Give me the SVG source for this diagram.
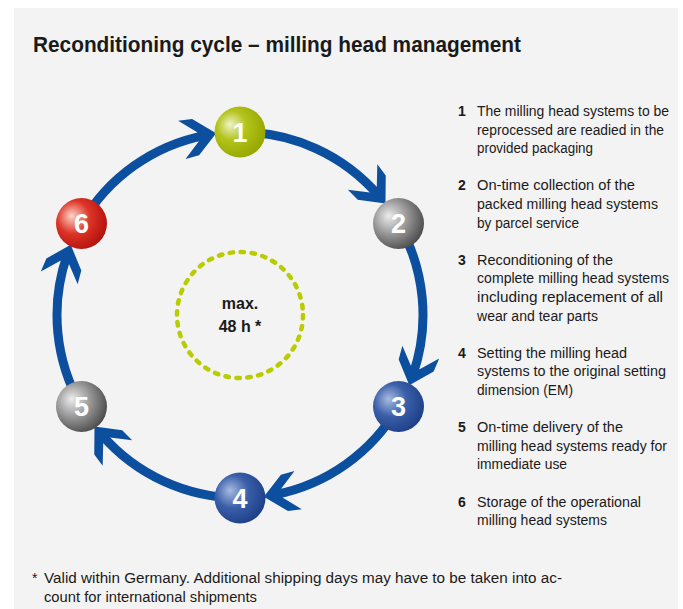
<svg xmlns="http://www.w3.org/2000/svg" width="683" height="609" viewBox="0 0 683 609">
<style>
  .ring{fill:none;stroke:#0b4f9e;stroke-width:9;marker-end:url(#ah)}
  .num{font-family:"Liberation Sans",Arial,sans-serif;font-size:27px;font-weight:bold;fill:#ffffff;text-anchor:middle}
  .li{font-family:"Liberation Sans",Arial,sans-serif;font-size:14px;fill:#1a1a1a}
  .ln{font-family:"Liberation Sans",Arial,sans-serif;font-size:14px;font-weight:bold;fill:#1a1a1a}
  .ctr{font-family:"Liberation Sans",Arial,sans-serif;font-size:16px;font-weight:bold;fill:#1a1a1a;text-anchor:middle}
</style>
<defs>
  <marker id="ah" markerUnits="userSpaceOnUse" orient="auto" viewBox="-30 -25 50 50" refX="0" refY="0" markerWidth="50" markerHeight="50" overflow="visible">
    <path d="M11,0 L-10,-18.5 L-24,-19.5 L-7.5,-4.5 L-7.5,4.5 L-24,19.5 L-10,18.5 Z" fill="#0b4f9e"/>
  </marker>
  <radialGradient id="gGreen" cx="0.38" cy="0.4" r="0.65" fx="0.3" fy="0.35">
    <stop offset="0" stop-color="#f0f3c8"/>
    <stop offset="0.45" stop-color="#b2c31a"/>
    <stop offset="1" stop-color="#96a600"/>
  </radialGradient>
  <radialGradient id="gGray" cx="0.38" cy="0.4" r="0.65" fx="0.3" fy="0.35">
    <stop offset="0" stop-color="#ececec"/>
    <stop offset="0.5" stop-color="#9a9a9a"/>
    <stop offset="1" stop-color="#4c4c4c"/>
  </radialGradient>
  <radialGradient id="gBlue" cx="0.38" cy="0.4" r="0.65" fx="0.3" fy="0.35">
    <stop offset="0" stop-color="#a8bbe0"/>
    <stop offset="0.5" stop-color="#3a5ea8"/>
    <stop offset="1" stop-color="#1d3f88"/>
  </radialGradient>
  <radialGradient id="gRed" cx="0.38" cy="0.4" r="0.65" fx="0.3" fy="0.35">
    <stop offset="0" stop-color="#fad4c6"/>
    <stop offset="0.5" stop-color="#dd3427"/>
    <stop offset="1" stop-color="#b3120e"/>
  </radialGradient>
</defs>

<rect x="0" y="0" width="683" height="609" fill="#ffffff"/>
<rect x="14" y="8" width="664" height="601" fill="#f3f3f3"/>

<text x="33" y="52" font-family="'Liberation Sans',Arial,sans-serif" font-size="22" font-weight="bold" fill="#1a1a1a" textLength="488" lengthAdjust="spacingAndGlyphs">Reconditioning cycle – milling head management</text>

<g id="connectors">
  <path class="ring" d="M240,132 A183,183 0 0 1 378.3,195.2"/>
  <path class="ring" d="M398.5,223.5 A183,183 0 0 1 412.9,374.9"/>
  <path class="ring" d="M398.5,406.5 A183,183 0 0 1 274.6,494.7"/>
  <path class="ring" d="M240,498 A183,183 0 0 1 101.7,434.8"/>
  <path class="ring" d="M81.5,406.5 A183,183 0 0 1 67.1,255.1"/>
  <path class="ring" d="M81.5,223.5 A183,183 0 0 1 205.4,135.3"/>
</g>

<g id="center">
  <circle cx="240" cy="315" r="63" fill="none" stroke="#b8cc00" stroke-width="4.5" stroke-dasharray="3.5 7.5" stroke-linecap="round"/>
  <text class="ctr" x="240" y="309">max.</text>
  <text class="ctr" x="240" y="332">48 h *</text>
</g>

<g id="node1"><circle cx="240" cy="132" r="25.5" fill="url(#gGreen)"/><text class="num" x="240" y="141.5">1</text></g>
<g id="node2"><circle cx="398.5" cy="223.5" r="25.5" fill="url(#gGray)"/><text class="num" x="398.5" y="233">2</text></g>
<g id="node3"><circle cx="398.5" cy="406.5" r="25.5" fill="url(#gBlue)"/><text class="num" x="398.5" y="416">3</text></g>
<g id="node4"><circle cx="240" cy="498" r="25.5" fill="url(#gBlue)"/><text class="num" x="240" y="507.5">4</text></g>
<g id="node5"><circle cx="81.5" cy="406.5" r="25.5" fill="url(#gGray)"/><text class="num" x="81.5" y="416">5</text></g>
<g id="node6"><circle cx="81.5" cy="223.5" r="25.5" fill="url(#gRed)"/><text class="num" x="81.5" y="233">6</text></g>

<g id="legend">
  <text class="ln" x="458" y="116">1</text>
  <text class="li" x="477" y="116" textLength="192" lengthAdjust="spacingAndGlyphs">The milling head systems to be</text>
  <text class="li" x="477" y="134.6" textLength="187" lengthAdjust="spacingAndGlyphs">reprocessed are readied in the</text>
  <text class="li" x="477" y="153.2" textLength="116" lengthAdjust="spacingAndGlyphs">provided packaging</text>

  <text class="ln" x="458" y="190.4">2</text>
  <text class="li" x="477" y="190.4" textLength="158" lengthAdjust="spacingAndGlyphs">On-time collection of the</text>
  <text class="li" x="477" y="209" textLength="181" lengthAdjust="spacingAndGlyphs">packed milling head systems</text>
  <text class="li" x="477" y="227.6" textLength="102" lengthAdjust="spacingAndGlyphs">by parcel service</text>

  <text class="ln" x="458" y="264.8">3</text>
  <text class="li" x="477" y="264.8" textLength="136" lengthAdjust="spacingAndGlyphs">Reconditioning of the</text>
  <text class="li" x="477" y="283.4" textLength="192" lengthAdjust="spacingAndGlyphs">complete milling head systems</text>
  <text class="li" x="477" y="302" textLength="186" lengthAdjust="spacingAndGlyphs">including replacement of all</text>
  <text class="li" x="477" y="320.6" textLength="121" lengthAdjust="spacingAndGlyphs">wear and tear parts</text>

  <text class="ln" x="458" y="357.8">4</text>
  <text class="li" x="477" y="357.8" textLength="150" lengthAdjust="spacingAndGlyphs">Setting the milling head</text>
  <text class="li" x="477" y="376.4" textLength="189" lengthAdjust="spacingAndGlyphs">systems to the original setting</text>
  <text class="li" x="477" y="395" textLength="96" lengthAdjust="spacingAndGlyphs">dimension (EM)</text>

  <text class="ln" x="458" y="432.2">5</text>
  <text class="li" x="477" y="432.2" textLength="146" lengthAdjust="spacingAndGlyphs">On-time delivery of the</text>
  <text class="li" x="477" y="450.8" textLength="190" lengthAdjust="spacingAndGlyphs">milling head systems ready for</text>
  <text class="li" x="477" y="469.4" textLength="90" lengthAdjust="spacingAndGlyphs">immediate use</text>

  <text class="ln" x="458" y="506.6">6</text>
  <text class="li" x="477" y="506.6" textLength="164" lengthAdjust="spacingAndGlyphs">Storage of the operational</text>
  <text class="li" x="477" y="525.2" textLength="130" lengthAdjust="spacingAndGlyphs">milling head systems</text>
</g>

<g id="footnote">
  <text class="li" x="32" y="583">*</text>
  <text class="li" x="44" y="583" textLength="518" lengthAdjust="spacingAndGlyphs">Valid within Germany. Additional shipping days may have to be taken into ac-</text>
  <text class="li" x="44" y="602" textLength="213" lengthAdjust="spacingAndGlyphs">count for international shipments</text>
</g>
</svg>
